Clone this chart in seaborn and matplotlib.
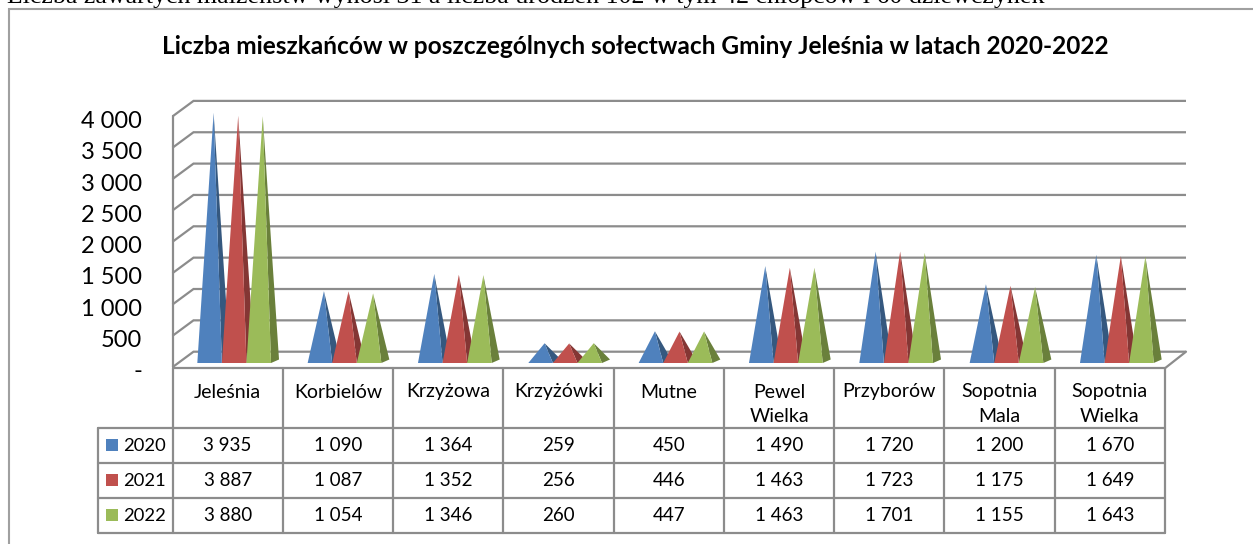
import numpy as np
import pandas as pd
import seaborn as sns
import matplotlib
matplotlib.use("Agg")
import matplotlib.pyplot as plt
from matplotlib.patches import Rectangle

villages = ["Jeleśnia", "Korbielów", "Krzyżowa", "Krzyżówki", "Mutne", "Pewel\nWielka",
            "Przyborów", "Sopotnia\nMala", "Sopotnia\nWielka"]
years = ["2020", "2021", "2022"]
v2020 = [3935, 1090, 1364, 259, 450, 1490, 1720, 1200, 1670]
v2021 = [3887, 1087, 1352, 256, 446, 1463, 1723, 1175, 1649]
v2022 = [3880, 1054, 1346, 260, 447, 1463, 1701, 1155, 1643]
y_ticks = [0, 500, 1000, 1500, 2000, 2500, 3000, 3500, 4000]
title = "Liczba mieszkańców w poszczególnych sołectwach Gminy Jeleśnia w latach 2020-2022"
top_line = "Liczba zawartych małżeństw wynosi 31 a liczba urodzeń 102 w tym 42 chłopców i 60 dziewczynek"
front = ["#4F81BD", "#C0504D", "#9BBB59"]
side = ["#35587F", "#843634", "#6A803B"]

W, H = 1253, 544
GRID = "#8C8C8C"
sns.set_theme(style="white")
plt.rcParams["font.family"] = ["Lato", "DejaVu Sans"]

fig = plt.figure(figsize=(W / 100, H / 100), dpi=100, facecolor="white")

# pixel overlay (origin at top-left) for frame, walls and table
ov = fig.add_axes([0, 0, 1, 1], zorder=0)
ov.set_xlim(0, W); ov.set_ylim(H, 0); ov.axis("off")

# data axes: value 0 sits on the pyramid-base centre line
PX_PER_UNIT = 0.0627
base_y = 359.5
ax_top, ax_bot = 90.0, 366.0
ax_l, ax_r = 179.0, 1172.0
ax = fig.add_axes([ax_l / W, 1 - ax_bot / H, (ax_r - ax_l) / W, (ax_bot - ax_top) / H], zorder=2)
ax.patch.set_alpha(0)
df = pd.DataFrame({
    "village": villages * 3,
    "year": np.repeat(years, len(villages)),
    "value": v2020 + v2021 + v2022,
})
sns.barplot(data=df, x="village", y="value", hue="year", order=villages, hue_order=years,
            palette=front, width=0.668, gap=0, dodge=True, legend=False, ax=ax, errorbar=None)
ax.set_xlim(-0.5, 8.5)
ax.set_ylim((base_y - ax_bot) / PX_PER_UNIT, (base_y - ax_top) / PX_PER_UNIT)
ax.axis("off")

# 3-D pyramids derived from the bars the library placed
px_x = (ax_r - ax_l) / 9
dx_side = 8.0 / px_x          # depth offset of the back-right corner
dy_front = 3.5 / PX_PER_UNIT  # front edge below the centre line
apex_dx = 4.0 / px_x
bars = list(ax.patches)
n = len(villages)
for k in range(len(years)):
    for b in bars[k * n:(k + 1) * n]:
        if b.get_height() == 0:
            continue
        x0, w, h = b.get_x(), b.get_width(), b.get_height()
        b.set_visible(False)
        apex_x = x0 + w / 2 + apex_dx
        z = 3 + k
        ax.fill([x0 + w, x0 + w + dx_side, apex_x], [-dy_front, 0, h],
                color=side[k], lw=0, zorder=z)
        ax.fill([x0, x0 + w, apex_x], [-dy_front, -dy_front, h],
                color=front[k], lw=0, zorder=z + 0.5)

# walls, using the same value scale
lx, rx, bx = 172.5, 1165.0, 21.0
dep_y = 15.5
y0_front = 367.2
for t in y_ticks:
    yf = y0_front - t * PX_PER_UNIT
    ov.plot([lx, lx + bx, rx + bx], [yf, yf - dep_y, yf - dep_y], color=GRID, lw=1.6,
            solid_capstyle="butt", solid_joinstyle="miter")
    ov.text(142, 371.7 - t * 0.0625, (f"{t:,}".replace(",", " ") if t else "-"), ha="right", va="center",
            fontsize=17, color="black")
ov.plot([lx, lx], [y0_front, y0_front - 4000 * PX_PER_UNIT], color=GRID, lw=1.6)
ov.plot([rx, rx + bx], [y0_front + 1, y0_front - dep_y], color=GRID, lw=1.6)

# table
col_x = [lx + i * (rx - lx) / 9 for i in range(10)]
row_y = [367.5, 427.7, 462.7, 497.7, 532.5]
tbl_left = 98.0
ov.plot([lx, rx], [row_y[0], row_y[0]], color=GRID, lw=1.6, solid_capstyle="butt")
for y in row_y[1:]:
    ov.plot([tbl_left, rx], [y, y], color=GRID, lw=1.6)
for x in col_x:
    ov.plot([x, x], [row_y[0], row_y[-1]], color=GRID, lw=1.6)
ov.plot([tbl_left, tbl_left], [row_y[1], row_y[-1]], color=GRID, lw=1.6)

for i, name in enumerate(villages):
    cx = (col_x[i] + col_x[i + 1]) / 2
    for j, part in enumerate(name.split("\n")):
        ov.text(cx, 392 + j * 24, part, ha="center", va="center", fontsize=14, color="black")
    for r, vals in enumerate([v2020, v2021, v2022]):
        ov.text(cx, (row_y[r + 1] + row_y[r + 2]) / 2 + 0.5, f"{vals[i]:,}".replace(",", " "),
                ha="center", va="center", fontsize=13.5, color="black")
for r, yr in enumerate(years):
    yc = (row_y[r + 1] + row_y[r + 2]) / 2
    ov.add_patch(Rectangle((106, yc - 6), 12, 12, facecolor=front[r], edgecolor="none"))
    ov.text(123, yc + 0.5, yr, ha="left", va="center", fontsize=13.2, color="black")

# outer frame and texts
ov.plot([8.5, 8.5, W], [H, 9, 9], color="#A0A0A0", lw=1.5, solid_joinstyle="miter")
ov.text(635.5, 46, title, ha="center", va="center", fontsize=17.6, fontweight="bold", color="black")
ov.text(7, 3, top_line, ha="left", va="baseline", fontsize=18.7, color="black",
        family="Liberation Serif", clip_on=False)

fig.savefig("out.png", dpi=100, facecolor="white")
